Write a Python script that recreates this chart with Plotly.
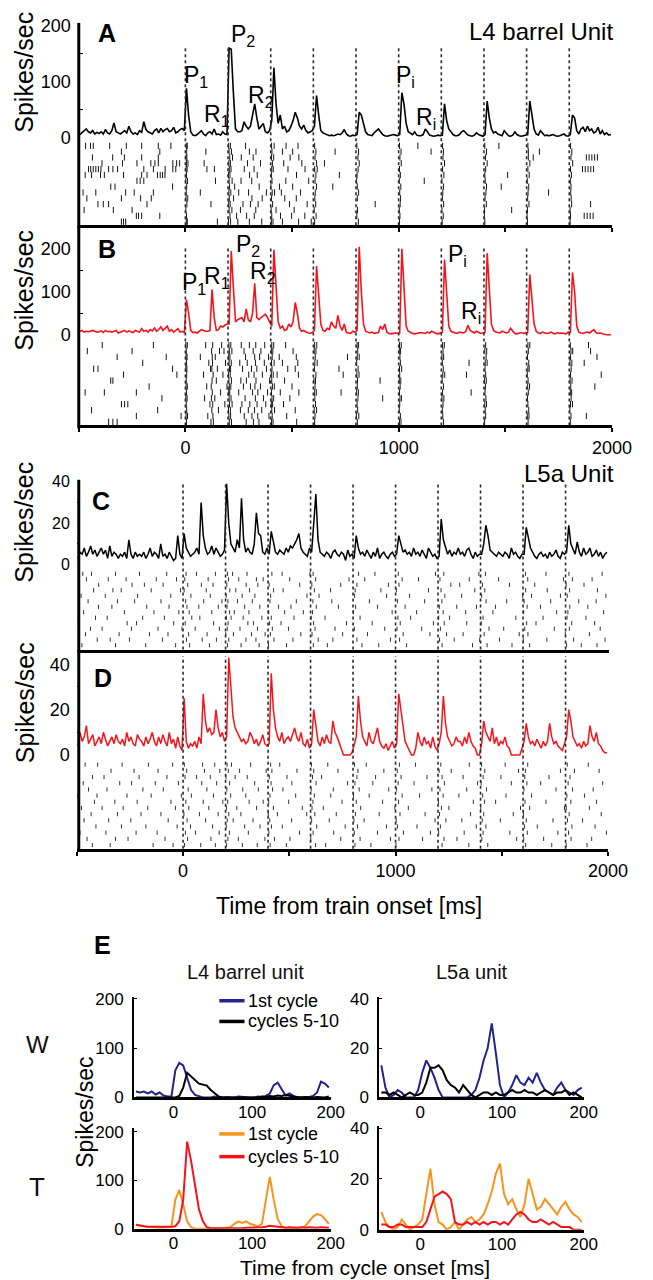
import numpy as np
import plotly.graph_objects as go

W, H = 653, 1280

# ---------------- data ----------------
TRAIN_BIN_START = -500
TRAIN_BIN_WIDTH = 10
STIM_TIMES = [0, 200, 400, 600, 800, 1000, 1200, 1400, 1600, 1800]

PSTH_A = [
    5, 8, 12, 15, 10, 8, 12, 6, 9, 7,
    10, 6, 14, 8, 6, 12, 26, 10, 8, 6,
    9, 12, 8, 20, 10, 6, 8, 5, 12, 9,
    28, 14, 10, 8, 6, 12, 15, 8, 16, 10,
    14, 16, 10, 12, 18, 8, 10, 14, 16, 12,
    88, 40, 10, 4, 3, 5, 8, 12, 6, 3,
    8, 10, 6, 15, 5, 6, 4, 10, 6, 5,
    160, 158, 80, 15, 10, 10, 12, 28, 20, 15,
    20, 40, 60, 35, 15, 20, 25, 10, 8, 12,
    30, 125, 60, 25, 40, 15, 20, 10, 12, 20,
    30, 45, 35, 20, 15, 22, 12, 8, 10, 12,
    20, 75, 40, 12, 8, 6, 5, 3, 4, 3,
    4, 6, 5, 8, 14, 6, 3, 2, 4, 3,
    5, 45, 40, 25, 10, 5, 4, 3, 8, 12,
    15, 10, 5, 3, 2, 3, 4, 5, 4, 3,
    5, 80, 60, 25, 10, 8, 5, 10, 4, 3,
    3, 5, 15, 10, 4, 3, 2, 3, 4, 3,
    4, 60, 30, 15, 10, 5, 3, 3, 5, 10,
    12, 8, 4, 3, 2, 4, 8, 5, 3, 2,
    5, 65, 35, 15, 8, 10, 6, 4, 3, 12,
    8, 3, 2, 4, 10, 5, 3, 2, 3, 4,
    5, 65, 40, 15, 6, 4, 12, 8, 3, 4,
    3, 4, 5, 3, 2, 3, 4, 6, 3, 2,
    5, 40, 35, 12, 6, 15, 18, 10, 20, 12,
    15, 8, 10, 18, 6, 12, 5, 8, 4, 5,
]

PSTH_B = [
    8, 10, 6, 8, 7, 9, 10, 8, 6, 7,
    9, 5, 10, 7, 8, 6, 9, 10, 4, 6,
    8, 10, 6, 9, 7, 5, 10, 8, 6, 14,
    8, 10, 6, 12, 9, 16, 8, 12, 18, 10,
    15, 20, 8, 12, 6, 10, 14, 6, 8, 5,
    82, 50, 10, 5, 6, 4, 8, 12, 10, 8,
    8, 10, 105, 40, 10, 12, 20, 18, 22, 25,
    25, 195, 110, 30, 35, 38, 40, 30, 60, 35,
    30, 50, 120, 40, 35, 40, 45, 48, 40, 30,
    20, 198, 120, 30, 15, 20, 10, 12, 25, 18,
    30, 75, 50, 15, 8, 10, 6, 5, 3, 5,
    10, 160, 90, 25, 10, 8, 15, 12, 30, 20,
    15, 45, 20, 10, 25, 5, 4, 3, 8, 6,
    10, 205, 100, 25, 8, 5, 4, 6, 3, 4,
    5, 20, 12, 25, 6, 3, 2, 3, 4, 3,
    4, 200, 110, 20, 8, 5, 3, 2, 3, 4,
    5, 4, 3, 6, 4, 8, 5, 3, 2, 4,
    6, 175, 100, 20, 8, 5, 4, 3, 6, 5,
    4, 8, 22, 10, 6, 4, 8, 5, 3, 4,
    6, 190, 110, 25, 10, 6, 5, 4, 8, 6,
    4, 6, 15, 8, 3, 2, 4, 5, 3, 4,
    5, 140, 90, 25, 8, 4, 3, 6, 4, 3,
    4, 6, 3, 2, 5, 3, 4, 3, 2, 6,
    5, 145, 100, 20, 6, 4, 3, 5, 6, 4,
    8, 12, 5, 3, 4, 2, 1, 0, 0, 0,
]

PSTH_C = [
    3, 6, 5, 8, 4, 6, 9, 5, 7, 4,
    6, 8, 5, 7, 3, 9, 4, 6, 5, 3,
    5, 4, 6, 3, 12, 5, 3, 6, 4, 5,
    4, 6, 3, 5, 8, 4, 6, 5, 3, 10,
    4, 5, 3, 6, 4, 2, 3, 14, 5, 3,
    15, 8, 6, 4, 5, 6, 8, 5, 30, 14,
    8, 5, 6, 9, 5, 8, 6, 4, 5, 7,
    39, 20, 10, 8, 6, 12, 8, 32, 12, 6,
    8, 6, 5, 10, 25, 15, 14, 6, 5, 8,
    5, 16, 10, 6, 5, 7, 6, 5, 8, 6,
    9, 8, 10, 12, 15, 8, 6, 5, 4, 8,
    6, 20, 34, 12, 6, 5, 4, 6, 5, 3,
    6, 7, 5, 4, 6, 5, 2, 7, 4, 5,
    3, 14, 8, 5, 6, 4, 7, 5, 3, 6,
    4, 8, 3, 5, 6, 4, 3, 5, 6, 4,
    5, 14, 10, 6, 7, 5, 6, 4, 8, 5,
    6, 4, 7, 5, 3, 8, 6, 4, 5, 3,
    4, 22, 12, 8, 5, 7, 4, 6, 5, 8,
    5, 6, 4, 7, 8, 5, 3, 6, 4, 5,
    5, 10, 19, 14, 7, 6, 5, 4, 6, 5,
    4, 6, 5, 3, 8, 5, 6, 4, 3, 5,
    5, 18, 12, 8, 6, 4, 3, 5, 6, 4,
    5, 3, 6, 4, 5, 7, 4, 3, 6, 5,
    6, 19, 10, 7, 5, 11, 6, 4, 8, 5,
    6, 8, 4, 5, 7, 4, 6, 3, 5, 6,
]

PSTH_D = [
    4, 10, 6, 8, 13, 5, 7, 9, 4, 6,
    8, 5, 10, 7, 4, 6, 8, 5, 9, 6,
    5, 7, 4, 10, 6, 8, 5, 4, 9, 7,
    6, 4, 8, 5, 7, 10, 6, 4, 8, 5,
    9, 6, 4, 10, 5, 7, 3, 8, 4, 2,
    25, 6, 3, 5, 4, 6, 3, 8, 5, 27,
    15, 10, 12, 9, 10, 20, 12, 8, 10, 6,
    8, 43, 30, 17, 12, 10, 8, 6, 7, 5,
    6, 10, 8, 5, 7, 4, 6, 9, 5, 4,
    5, 36, 20, 12, 8, 6, 10, 5, 7, 8,
    6, 9, 12, 8, 6, 10, 5, 4, 7, 3,
    5, 20, 12, 6, 4, 8, 5, 9, 6, 5,
    15, 10, 8, 5, 3, 0, 0, 0, 0, 1,
    4, 8, 26, 15, 8, 6, 4, 10, 6, 5,
    8, 12, 6, 4, 3, 5, 2, 4, 6, 3,
    5, 27, 20, 12, 6, 4, 2, 0, 0, 3,
    10, 6, 4, 8, 5, 6, 3, 8, 4, 2,
    5, 10, 26, 14, 8, 6, 4, 5, 8, 6,
    6, 4, 8, 5, 10, 6, 4, 3, 0, 0,
    5, 15, 10, 8, 6, 12, 5, 8, 4, 6,
    5, 8, 4, 3, 0, 0, 0, 0, 0, 3,
    6, 14, 8, 5, 6, 4, 7, 5, 3, 6,
    4, 6, 14, 8, 5, 6, 4, 3, 2, 5,
    8, 20, 15, 8, 6, 4, 5, 3, 6, 4,
    5, 13, 8, 6, 10, 5, 4, 2, 1, 1,
]

# raster rows: spike times (ms) per trial, top row first
RASTER_A = [
    [-468, -445, -432, -355, -277, -205, -127, -68, 4, 9, 203, 211, 282, 404, 416, 472, 528, 606, 804, 1004, 1090, 1206, 1404, 1470, 1606, 1806],
    [-300, -120, 6, 96, 205, 216, 300, 331, 406, 455, 503, 612, 702, 812, 1011, 1152, 1210, 1412, 1608, 1660, 1812],
    [-436, -341, -286, -205, -127, 3, 7, 208, 221, 262, 318, 404, 414, 491, 532, 608, 809, 1006, 1208, 1407, 1608, 1631, 1808, 1880, 1893, 1906, 1919, 1932],
    [-391, -295, -227, -162, -143, -127, -59, -41, -27, 5, 12, 88, 204, 211, 291, 352, 408, 461, 546, 615, 652, 815, 1012, 1215, 1415, 1615, 1816],
    [-454, -444, -432, -420, -408, -396, -360, -340, -318, -195, -150, -95, -59, -45, 3, 8, 101, 136, 206, 214, 276, 322, 405, 412, 481, 561, 606, 618, 810, 1004, 1206, 1408, 1606, 1806, 1862, 1875, 1888, 1901, 1914],
    [-470, -440, -398, -380, -290, -205, -180, -131, -118, -107, -96, 5, 202, 209, 301, 337, 403, 521, 612, 722, 805, 1008, 1212, 1404, 1511, 1612, 1810],
    [-227, -212, -195, 2, 10, 141, 205, 219, 261, 311, 406, 471, 578, 608, 803, 1003, 1120, 1203, 1406, 1603, 1805],
    [-350, -330, -60, 6, 207, 231, 346, 401, 441, 503, 615, 691, 806, 1010, 1210, 1412, 1481, 1610, 1808],
    [-480, -420, -280, -240, -150, 4, 70, 204, 213, 250, 296, 380, 407, 418, 450, 540, 609, 812, 1005, 1207, 1409, 1607, 1703, 1807],
    [-462, -300, -210, -160, 3, 11, 206, 226, 312, 360, 404, 466, 520, 607, 806, 1009, 1205, 1405, 1605, 1809],
    [-410, -385, -360, -180, 7, 120, 203, 210, 270, 305, 341, 409, 488, 571, 611, 890, 1007, 1211, 1411, 1611, 1811, 1900],
    [-475, -338, -250, 2, 205, 218, 258, 330, 402, 425, 510, 604, 807, 1003, 1203, 1403, 1530, 1604, 1804],
    [-230, -220, -205, -120, 5, 209, 240, 287, 323, 405, 446, 498, 560, 613, 804, 1006, 1209, 1402, 1602, 1806, 1870, 1884, 1898, 1912],
    [-300, -290, -280, 4, 9, 150, 202, 212, 246, 300, 358, 403, 411, 455, 531, 590, 606, 811, 1004, 1204, 1404, 1604, 1804],
]

RASTER_B = [
    [-390, -150, 2, 9, 95, 128, 170, 204, 213, 262, 300, 330, 372, 405, 414, 470, 606, 616, 805, 812, 1004, 1012, 1206, 1214, 1408, 1606, 1615, 1805, 1890],
    [-460, -250, 4, 123, 160, 181, 206, 218, 275, 318, 354, 403, 410, 505, 604, 612, 808, 1003, 1009, 1208, 1404, 1413, 1608, 1808, 1816, 1900],
    [-320, -90, 3, 8, 70, 126, 140, 203, 209, 282, 325, 348, 390, 407, 440, 520, 609, 760, 806, 815, 1006, 1203, 1211, 1410, 1604, 1806, 1930],
    [-200, 5, 110, 127, 188, 205, 215, 255, 290, 329, 370, 404, 416, 455, 527, 607, 618, 803, 1008, 1205, 1330, 1406, 1415, 1610, 1803, 1812, 1870],
    [-430, -410, -60, 2, 7, 118, 124, 150, 207, 212, 268, 310, 335, 380, 406, 480, 515, 605, 720, 810, 1004, 1014, 1209, 1405, 1606, 1612, 1809],
    [-290, -40, 6, 85, 130, 176, 202, 210, 297, 322, 361, 403, 412, 430, 530, 612, 740, 804, 814, 1005, 1207, 1216, 1318, 1408, 1603, 1806, 1950],
    [-350, -340, 4, 125, 145, 204, 216, 260, 286, 331, 395, 405, 465, 603, 610, 807, 913, 1003, 1010, 1204, 1403, 1411, 1607, 1804, 1813],
    [-170, 3, 9, 100, 121, 195, 206, 213, 272, 305, 326, 352, 408, 417, 500, 608, 806, 1007, 1210, 1407, 1605, 1614, 1807, 1920],
    [-470, -380, -230, 5, 126, 165, 203, 208, 250, 315, 340, 385, 404, 445, 532, 606, 614, 730, 803, 811, 1004, 1206, 1340, 1405, 1608, 1805, 1811],
    [-110, 2, 8, 90, 122, 138, 205, 214, 280, 328, 366, 406, 414, 490, 607, 809, 925, 1006, 1013, 1203, 1212, 1409, 1604, 1809],
    [-300, -285, -270, 4, 115, 128, 185, 207, 219, 265, 302, 336, 377, 403, 409, 460, 610, 805, 1005, 1208, 1404, 1412, 1606, 1806, 1815],
    [-440, -130, 6, 124, 155, 202, 211, 258, 295, 324, 358, 405, 418, 515, 604, 615, 808, 1003, 1205, 1406, 1610, 1803],
    [-230, -20, 3, 10, 105, 129, 204, 212, 276, 312, 339, 392, 407, 475, 608, 802, 813, 1008, 1207, 1408, 1603, 1611, 1808, 1880],
    [-360, -340, -320, 5, 120, 131, 206, 216, 285, 319, 345, 404, 411, 522, 606, 806, 1004, 1011, 1210, 1403, 1607, 1805],
]

RASTER_C = [
    [-472, -431, -318, -205, -77, 14, 63, 152, 209, 233, 301, 418, 466, 597, 612, 826, 903, 1013, 1188, 1227, 1392, 1423, 1611, 1708, 1816, 1972],
    [-455, -352, -268, -126, -31, 8, 118, 214, 262, 345, 377, 502, 624, 781, 855, 1031, 1108, 1209, 1347, 1485, 1622, 1790, 1832, 1925],
    [-490, -397, -240, -182, -94, 22, 86, 141, 206, 297, 352, 405, 549, 606, 742, 818, 967, 1016, 1260, 1302, 1409, 1536, 1655, 1803, 1887],
    [-421, -330, -291, -150, -12, 5, 109, 220, 248, 313, 426, 471, 618, 694, 810, 931, 1004, 1155, 1214, 1373, 1420, 1612, 1714, 1819, 1950],
    [-480, -366, -214, -58, 37, 128, 203, 278, 338, 412, 583, 640, 807, 958, 1066, 1232, 1311, 1405, 1598, 1640, 1776, 1808, 1990],
    [-447, -309, -228, -104, 12, 97, 183, 211, 256, 326, 409, 533, 611, 700, 877, 1009, 1137, 1218, 1426, 1523, 1605, 1730, 1862, 1944],
    [-398, -335, -171, -66, 18, 74, 166, 207, 290, 361, 449, 508, 627, 731, 812, 915, 1045, 1206, 1288, 1381, 1470, 1619, 1682, 1820, 1905],
    [-468, -276, -137, -20, 29, 135, 219, 241, 310, 403, 478, 566, 609, 802, 984, 1099, 1224, 1330, 1458, 1603, 1758, 1811, 1979],
    [-412, -357, -190, -88, 41, 79, 204, 226, 283, 371, 415, 522, 603, 668, 833, 1011, 1071, 1203, 1254, 1412, 1566, 1694, 1807, 1896],
    [-493, -263, -219, -44, 10, 144, 212, 305, 332, 407, 461, 614, 769, 890, 1022, 1178, 1229, 1335, 1403, 1617, 1661, 1829, 1937],
    [-436, -381, -243, -118, -5, 57, 171, 208, 268, 350, 420, 496, 621, 715, 806, 949, 1007, 1123, 1211, 1440, 1509, 1608, 1747, 1818, 1963],
    [-459, -301, -158, -71, 26, 113, 201, 237, 322, 386, 411, 554, 607, 751, 868, 1036, 1162, 1240, 1318, 1417, 1582, 1623, 1799, 1912],
    [-404, -343, -252, -97, 16, 90, 157, 215, 296, 343, 428, 517, 636, 705, 818, 976, 1019, 1207, 1276, 1396, 1489, 1601, 1712, 1838, 1986],
    [-476, -318, -176, -35, 31, 124, 209, 273, 358, 402, 487, 613, 679, 842, 921, 1052, 1219, 1362, 1431, 1548, 1631, 1805, 1874, 1948],
]

RASTER_D = [
    [-461, -402, -287, -163, -49, 6, 92, 149, 207, 228, 318, 412, 455, 604, 681, 807, 862, 1018, 1094, 1213, 1347, 1405, 1516, 1622, 1808, 1907],
    [-488, -339, -231, -118, 17, 101, 173, 213, 266, 391, 418, 536, 615, 729, 823, 945, 1008, 1205, 1262, 1420, 1579, 1611, 1776, 1842, 1958],
    [-426, -372, -207, -76, 9, 64, 128, 202, 245, 302, 406, 489, 609, 652, 818, 906, 1026, 1148, 1219, 1318, 1412, 1496, 1608, 1722, 1821],
    [-470, -298, -242, -131, -22, 88, 158, 219, 337, 414, 512, 626, 774, 809, 893, 1012, 1087, 1230, 1386, 1403, 1545, 1618, 1683, 1812, 1975],
    [-445, -358, -189, -93, 24, 112, 206, 281, 354, 421, 470, 603, 707, 829, 968, 1005, 1171, 1209, 1335, 1428, 1604, 1755, 1833, 1930],
    [-496, -405, -264, -150, -8, 39, 143, 224, 295, 409, 530, 618, 695, 802, 876, 1031, 1113, 1224, 1298, 1410, 1520, 1640, 1806, 1889],
    [-417, -321, -216, -57, 13, 95, 187, 210, 311, 377, 403, 497, 611, 748, 815, 939, 1014, 1202, 1366, 1419, 1471, 1609, 1708, 1825, 1946],
    [-478, -381, -282, -166, -36, 27, 121, 204, 253, 346, 425, 561, 607, 660, 836, 997, 1060, 1216, 1251, 1401, 1588, 1631, 1795, 1803, 1912],
    [-433, -309, -198, -104, 4, 77, 165, 215, 272, 401, 444, 582, 620, 721, 811, 923, 1021, 1139, 1207, 1353, 1415, 1554, 1602, 1817, 1968],
    [-466, -350, -246, -70, 19, 106, 208, 236, 329, 408, 511, 605, 688, 804, 852, 1003, 1186, 1237, 1312, 1408, 1493, 1615, 1741, 1809, 1880],
    [-410, -290, -175, -28, 35, 139, 203, 290, 362, 416, 467, 629, 763, 821, 957, 1009, 1101, 1211, 1380, 1425, 1607, 1667, 1830, 1939],
    [-485, -363, -221, -122, 11, 58, 170, 218, 307, 404, 548, 612, 709, 806, 915, 1037, 1164, 1203, 1323, 1412, 1538, 1620, 1764, 1814, 1992],
    [-452, -318, -259, -85, 21, 131, 211, 260, 385, 430, 503, 601, 742, 833, 976, 1016, 1127, 1228, 1289, 1406, 1570, 1603, 1697, 1826, 1923],
    [-427, -343, -141, -47, 7, 83, 152, 205, 279, 349, 410, 486, 623, 671, 809, 884, 1002, 1219, 1345, 1434, 1612, 1735, 1803, 1901],
]

# Panel E: cycle-aligned PSTHs (5 ms bins from -50 ms)
CYCLE_BIN_START = -50
CYCLE_BIN_WIDTH = 5
W_L4_FIRST = [12, 10, 12, 8, 12, 6, 10, 4, 2, 2,
              55, 70, 65, 40, 15, 5, 2, 0, 0, 0,
              2, 1, 0, 1, 0, 0, 2, 1, 0, 0,
              0, 2, 1, 3, 8, 25, 30, 18, 4, 8,
              3, 0, 0, 0, 1, 3, 10, 32, 28, 20]
W_L4_LATE = [0, 0, 0, 0, 0, 0, 0, 1, 0, 0,
             0, 3, 20, 50, 42, 35, 28, 26, 24, 15,
             8, 2, 0, 0, 1, 0, 0, 1, 0, 0,
             1, 0, 2, 1, 3, 2, 4, 3, 5, 3,
             2, 1, 0, 1, 0, 0, 1, 0, 0, 2]
W_L5_FIRST = [13, 4, 0, 1, 3, 2, 0, 0, 0, 3,
              10, 15, 12, 8, 3, 0, 0, 0, 0, 0,
              0, 0, 1, 3, 8, 15, 20, 30, 18, 5,
              0, 2, 5, 9, 6, 5, 8, 6, 10, 6,
              3, 2, 1, 4, 6, 3, 2, 1, 3, 4]
W_L5_LATE = [2, 2, 1, 2, 1, 0, 1, 2, 1, 1,
             2, 6, 12, 12, 13, 11, 7, 5, 4, 2,
             5, 3, 1, 0, 1, 2, 2, 1, 2, 1,
             1, 2, 3, 2, 2, 3, 2, 2, 1, 2,
             3, 2, 1, 2, 2, 3, 1, 2, 1, 0]
T_L4_FIRST = [8, 6, 5, 4, 3, 3, 2, 2, 3, 4,
              60, 80, 50, 15, 3, 0, 0, 0, 0, 0,
              0, 0, 1, 2, 3, 10, 15, 12, 15, 10,
              8, 5, 10, 60, 107, 60, 20, 5, 2, 1,
              0, 1, 2, 5, 15, 25, 30, 28, 20, 10]
T_L4_LATE = [8, 6, 5, 4, 4, 3, 3, 3, 3, 4,
             5, 15, 60, 180, 140, 90, 40, 15, 3, 1,
             1, 0, 0, 1, 1, 0, 1, 1, 2, 2,
             3, 2, 3, 4, 6, 5, 4, 3, 2, 3,
             2, 2, 3, 2, 3, 2, 2, 3, 2, 2]
T_L5_FIRST = [7, 3, 1, 0, 1, 4, 2, 0, 1, 2,
              4, 15, 24, 10, 3, 2, 0, 1, 3, 0,
              2, 4, 5, 3, 4, 6, 10, 15, 22, 26,
              14, 10, 12, 8, 5, 10, 20, 14, 8, 9,
              12, 10, 8, 6, 9, 11, 8, 6, 5, 3]
T_L5_LATE = [2, 2, 1, 1, 2, 2, 1, 1, 1, 1,
             1, 3, 8, 13, 14, 15, 14, 12, 3, 2,
             2, 3, 2, 3, 2, 3, 2, 3, 3, 2,
             3, 2, 4, 6, 7, 6, 4, 3, 3, 4,
             3, 2, 3, 2, 1, 1, 1, 0, 0, 0]

TRAIN_LABEL_TICKS = [0, 1000, 2000]
TRAIN_MINOR_TICKS = [-500, 500, 1500]
CYCLE_TICKS = [0, 100, 200]

# ---------------- styling ----------------
FONT = "Liberation Sans, Arial, sans-serif"
RED = "#f5141c"
BLUE = "#23238f"
ORANGE = "#f7941d"
DOT = "#2a2a2a"


def xd(a, b):
    return [a / W, b / W]


def yd(top, bottom):
    return [1 - bottom / H, 1 - top / H]


def yrange(zero_px, ref_px, ref_val, top_px, bottom_px):
    s = (zero_px - ref_px) / ref_val
    return [-(bottom_px - zero_px) / s, (zero_px - top_px) / s]


def px(x):
    return x / W


def py(y):
    return 1 - y / H


train_x = [TRAIN_BIN_START + TRAIN_BIN_WIDTH * (i + 0.5) for i in range(len(PSTH_A))]
cycle_x = [CYCLE_BIN_START + CYCLE_BIN_WIDTH * (i + 0.5) for i in range(len(W_L4_FIRST))]

fig = go.Figure()


def line(xv, yv, xa, ya, color, width):
    fig.add_trace(go.Scatter(x=xv, y=yv, xaxis=xa, yaxis=ya, mode="lines",
                             line=dict(color=color, width=width),
                             hoverinfo="skip", showlegend=False))


def raster(rows, xa, ya, size, width, color):
    xs, ys = [], []
    for r, row in enumerate(rows):
        xs += row
        ys += [r] * len(row)
    fig.add_trace(go.Scatter(x=xs, y=ys, xaxis=xa, yaxis=ya, mode="markers",
                             marker=dict(symbol="line-ns", size=size,
                                         line=dict(width=width, color=color),
                                         color=color),
                             hoverinfo="skip", showlegend=False))


line(train_x, PSTH_A, "x", "y", "black", 1.6)
raster(RASTER_A, "x", "y2", 4.5, 1, "#151515")
line(train_x, PSTH_B, "x2", "y3", RED, 1.6)
raster(RASTER_B, "x2", "y4", 4.5, 1, "#151515")
line(train_x, PSTH_C, "x3", "y5", "black", 1.5)
raster(RASTER_C, "x3", "y6", 3, 1, "#333333")
line(train_x, PSTH_D, "x4", "y7", RED, 1.5)
raster(RASTER_D, "x4", "y8", 3, 1, "#333333")

line(cycle_x, W_L4_FIRST, "x5", "y9", BLUE, 2)
line(cycle_x, W_L4_LATE, "x5", "y9", "black", 2)
line(cycle_x, W_L5_FIRST, "x6", "y10", BLUE, 2)
line(cycle_x, W_L5_LATE, "x6", "y10", "black", 2)
line(cycle_x, T_L4_FIRST, "x7", "y11", ORANGE, 2)
line(cycle_x, T_L4_LATE, "x7", "y11", RED, 2)
line(cycle_x, T_L5_FIRST, "x8", "y12", ORANGE, 2)
line(cycle_x, T_L5_LATE, "x8", "y12", RED, 2)

nrows = len(RASTER_A)
tickfont = dict(family=FONT, size=18, color="black")
tickfont_cd = dict(family=FONT, size=16, color="black")
tickfont_e = dict(family=FONT, size=17, color="black")

base_x = dict(showgrid=False, zeroline=False)
base_y = dict(showgrid=False, zeroline=False)


def train_xaxis(dom, anchor, labels):
    d = dict(base_x, domain=xd(*dom), range=[-500, 2000], anchor=anchor,
             showline=True, linewidth=3, linecolor="black",
             tickvals=TRAIN_LABEL_TICKS, ticks="outside", ticklen=4, tickwidth=1.5,
             tickcolor="black", tickfont=tickfont, showticklabels=labels,
             minor=dict(tickvals=TRAIN_MINOR_TICKS, ticks="outside", ticklen=4,
                        tickwidth=1.5, tickcolor="black"))
    return d


lay = {}
# A
lay["xaxis"] = train_xaxis((73, 623), "y2", False)
lay["yaxis"] = dict(base_y, domain=yd(8, 127), range=yrange(124, 11, 200, 8, 127),
                    anchor="x", tickvals=[0, 100, 200], ticks="", ticklabelstandoff=7,
                    tickfont=tickfont, minor=dict(tickvals=[50, 150], ticks="inside",
                                                  ticklen=4, tickcolor="black"))
lay["yaxis2"] = dict(base_y, domain=yd(129, 213), range=[nrows - 0.4, -0.6],
                     anchor="x", showticklabels=False, ticks="")
# B
lay["xaxis2"] = train_xaxis((73, 623), "y4", True)
lay["yaxis3"] = dict(base_y, domain=yd(217, 328), range=yrange(324, 237, 200, 217, 328),
                     anchor="x2", tickvals=[0, 100, 200], ticks="", ticklabelstandoff=7,
                     tickfont=tickfont, minor=dict(tickvals=[50, 150], ticks="inside",
                                                   ticklen=4, tickcolor="black"))
lay["yaxis4"] = dict(base_y, domain=yd(331, 416), range=[nrows - 0.4, -0.6],
                     anchor="x2", showticklabels=False, ticks="")
# C
lay["xaxis3"] = dict(base_x, domain=xd(71, 619), range=[-500, 2000], anchor="y6",
                     showline=False, showticklabels=False, ticks="")
lay["yaxis5"] = dict(base_y, domain=yd(471, 560), range=yrange(557, 473, 40, 471, 560),
                     anchor="x3", tickvals=[0, 20, 40], ticks="", ticklabelstandoff=6,
                     tickfont=tickfont_cd, minor=dict(tickvals=[10, 30], ticks="inside",
                                                      ticklen=3, tickcolor="black"))
lay["yaxis6"] = dict(base_y, domain=yd(563, 642), range=[nrows - 0.4, -0.6],
                     anchor="x3", showticklabels=False, ticks="")
# D
lay["xaxis4"] = train_xaxis((71, 619), "y8", True)
lay["yaxis7"] = dict(base_y, domain=yd(648, 753), range=yrange(750, 658, 40, 648, 753),
                     anchor="x4", tickvals=[0, 20, 40], ticks="", ticklabelstandoff=6,
                     tickfont=dict(family=FONT, size=18, color="black"),
                     minor=dict(tickvals=[10, 30], ticks="inside", ticklen=3, tickcolor="black"))
lay["yaxis8"] = dict(base_y, domain=yd(756, 845), range=[nrows - 0.4, -0.6],
                     anchor="x4", showticklabels=False, ticks="")


# E
def e_axes(xn, yn, xdom, top_px, zero_px, ymax_val, ref_px, yticks):
    lay["xaxis%d" % xn] = dict(base_x, domain=xd(*xdom), range=[-50, 200], anchor="y%d" % yn,
                               showline=True, linewidth=3, linecolor="black",
                               tickvals=CYCLE_TICKS, ticks="", ticklabelstandoff=-3,
                               tickfont=tickfont_e)
    s = (zero_px - ref_px) / ymax_val
    top_val = (zero_px - top_px) / s
    lay["yaxis%d" % yn] = dict(base_y, domain=yd(top_px, zero_px), range=[0, top_val],
                               anchor="x%d" % xn, showline=True, linewidth=2,
                               linecolor="black", tickvals=yticks, ticks="inside",
                               ticklen=3, tickcolor="black", ticklabelstandoff=5,
                               tickfont=tickfont_e)


e_axes(5, 9, (130, 333), 995, 1097, 200, 997, [0, 100, 200])
e_axes(6, 10, (383, 594), 995, 1097, 40, 997, [0, 20, 40])
e_axes(7, 11, (130, 333), 1128, 1230, 200, 1132, [0, 100, 200])
e_axes(8, 12, (383, 594), 1126, 1231, 40, 1128, [0, 20, 40])

# ---------------- shapes ----------------
shapes = []
# axis lines for A-D
for (x0, y0, y1) in [(73, 8, 216), (73, 214, 419), (73, 471, 646), (73, 644, 848)]:
    shapes.append(dict(type="line", xref="paper", yref="paper", x0=px(x0), x1=px(x0),
                       y0=py(y0), y1=py(y1), line=dict(color="black", width=3)))
shapes.append(dict(type="line", xref="paper", yref="paper", x0=px(72), x1=px(620),
                   y0=py(645), y1=py(645), line=dict(color="black", width=3)))
# stimulus dotted lines
for xa, top, bot in [("x", 32, 213), ("x2", 234, 416), ("x3", 473, 643), ("x4", 650, 845)]:
    for t in STIM_TIMES:
        shapes.append(dict(type="line", xref=xa, yref="paper", x0=t, x1=t,
                           y0=py(bot), y1=py(top),
                           line=dict(color=DOT, width=1.6, dash="dot")))
# legend swatches for E
for (y, c) in [(999, BLUE), (1020, "black"), (1134, ORANGE), (1157, RED)]:
    shapes.append(dict(type="line", xref="paper", yref="paper", x0=px(218), x1=px(244),
                       y0=py(y), y1=py(y), line=dict(color=c, width=3.5)))

# ---------------- annotations ----------------
anns = []


def ann(text, x, y, size, family=FONT, xanchor="center", yanchor="middle",
        angle=0, bold=False, color="black"):
    if bold:
        text = "<b>" + text + "</b>"
    anns.append(dict(text=text, x=px(x), y=py(y), xref="paper", yref="paper",
                     showarrow=False, xanchor=xanchor, yanchor=yanchor, textangle=angle,
                     font=dict(family=family, size=size, color=color)))


for y in [58, 279, 514, 697]:
    ann("Spikes/sec", 17, y, 25, angle=-90)
ann("Spikes/sec", 80, 1112, 23, angle=-90)

ann("A", 102, 18, 25, bold=True)
ann("B", 102, 237, 25, bold=True)
ann("C", 96, 493, 25, bold=True)
ann("D", 98, 672, 25, bold=True)
ann("E", 98, 943, 25, bold=True)

ann("L4 barrel Unit", 626, 17, 24, xanchor="right")
ann("L5a Unit", 627, 465, 24, xanchor="right")

# peak labels
pl = 23
ann("P<sub>1</sub>", 179, 62, pl, xanchor="left")
ann("R<sub>1</sub>", 200, 102, pl, xanchor="left")
ann("P<sub>2</sub>", 228, 21, pl, xanchor="left")
ann("R<sub>2</sub>", 246, 83, pl, xanchor="left")
ann("P<sub>i</sub>", 398, 62, pl, xanchor="left")
ann("R<sub>i</sub>", 419, 105, pl, xanchor="left")

ann("P<sub>1</sub>", 177, 272, pl, xanchor="left")
ann("R<sub>1</sub>", 200, 266, pl, xanchor="left")
ann("P<sub>2</sub>", 233, 234, pl, xanchor="left")
ann("R<sub>2</sub>", 248, 261, pl, xanchor="left")
ann("P<sub>i</sub>", 452, 244, pl, xanchor="left")
ann("R<sub>i</sub>", 465, 301, pl, xanchor="left")

ann("Time from train onset [ms]", 352, 903, 23)
ann("Time from cycle onset [ms]", 368, 1269, 21)

ann("L4 barrel unit", 245, 970, 20, color="#111111")
ann("L5a unit", 479, 970, 20, color="#111111")
ann("W", 30, 1043, 24, color="#111111")
ann("T", 30, 1188, 26, color="#111111")

ann("1st cycle", 246, 999, 18, xanchor="left")
ann("cycles 5-10", 246, 1020, 18, xanchor="left")
ann("1st cycle", 246, 1134, 18, xanchor="left")
ann("cycles 5-10", 246, 1157, 18, xanchor="left")

fig.update_layout(
    width=W, height=H, margin=dict(l=0, r=0, t=0, b=0),
    paper_bgcolor="white", plot_bgcolor="white", showlegend=False,
    font=dict(family=FONT, size=16, color="black"),
    shapes=shapes, annotations=anns, **lay,
)

fig.write_html("out.html")
